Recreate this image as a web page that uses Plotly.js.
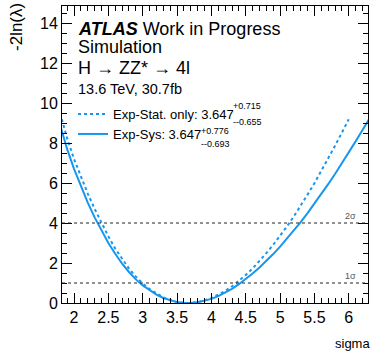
<!DOCTYPE html>
<html>
<head>
<meta charset="utf-8">
<script src="https://cdn.plot.ly/plotly-3.0.1.min.js"></script>
<style>html,body{margin:0;padding:0;background:#fff;}#chart{width:371px;height:351px;}</style>
</head>
<body>
<div id="chart"></div>
<script>
// ---- data ----
const statX = [1.8,1.9,2.0,2.1,2.2,2.3,2.4,2.5,2.6,2.7,2.8,2.9,3.0,3.1,3.2,3.3,3.4,3.5,3.6,3.647,3.7,3.8,3.9,4.0,4.1,4.2,4.3,4.4,4.5,4.6,4.7,4.8,4.9,5.0,5.1,5.2,5.3,5.4,5.5,5.6,5.7,5.8,5.9,6.0];
const statY = [9.48,8.23,7.20,6.31,5.47,4.71,3.99,3.33,2.72,2.19,1.72,1.32,0.976,0.70,0.47,0.28,0.14,0.05,0.005,0,0.0055,0.046,0.125,0.244,0.401,0.598,0.834,1.106,1.40,1.73,2.09,2.49,2.91,3.35,3.83,4.33,4.86,5.42,5.99,6.59,7.20,7.86,8.52,9.19];
const sysX = [1.8,1.9,2.0,2.1,2.2,2.3,2.4,2.5,2.6,2.7,2.8,2.9,3.0,3.1,3.2,3.3,3.4,3.5,3.6,3.647,3.7,3.8,3.9,4.0,4.1,4.2,4.3,4.4,4.5,4.6,4.7,4.8,4.9,5.0,5.1,5.2,5.3,5.4,5.5,5.6,5.7,5.8,5.9,6.0,6.1,6.2,6.3];
const sysY = [8.87,7.69,6.71,5.82,5.02,4.28,3.61,3.00,2.46,1.97,1.55,1.18,0.88,0.63,0.42,0.25,0.13,0.045,0.005,0,0.005,0.039,0.106,0.207,0.341,0.508,0.708,0.941,1.196,1.474,1.777,2.098,2.447,2.818,3.21,3.62,4.04,4.49,4.96,5.44,5.94,6.45,6.98,7.52,8.08,8.65,9.21];
const seriesNames = ["Exp-Stat. only: 3.647", "Exp-Sys: 3.647"];
const errUp = ["+0.715", "+0.776"];
const errDown = ["--0.655", "--0.693"];
const sigmaLevels = [1, 4];
const sigmaLabels = ["1\u03c3", "2\u03c3"];
const xTicks = [2, 2.5, 3, 3.5, 4, 4.5, 5, 5.5, 6];
const yTicks = [0, 2, 4, 6, 8, 10, 12, 14];

// ---- layout helpers ----
const W = 371, H = 351, ML = 62, MR = 3, MT = 6, MB = 48;
const PW = W - ML - MR, PH = H - MT - MB;
const px = x => (x - ML) / PW;
const py = y => (H - MB - y) / PH;
const blue = 'rgb(24,150,238)';
const FONT = 'Liberation Sans, Arial, Helvetica, sans-serif';

const traces = [
  {x: statX, y: statY, mode: 'lines', name: seriesNames[0], legend: 'legend',
   line: {color: blue, width: 2, dash: 'dot'}},
  {x: sysX, y: sysY, mode: 'lines', name: seriesNames[1], legend: 'legend2',
   line: {color: blue, width: 2}}
];

const shapes = sigmaLevels.map(v => ({
  type: 'line', xref: 'paper', x0: 0, x1: 1, yref: 'y', y0: v, y1: v,
  line: {color: '#222', width: 1, dash: 'dot'}
}));

const mk = a => Object.assign({xref: 'paper', yref: 'paper', xanchor: 'left', yanchor: 'middle',
  showarrow: false}, a, {font: Object.assign({family: FONT, size: 18, color: '#000'}, a.font || {})});

const annotations = [
  mk({text: '<b><i>ATLAS</i></b> Work in Progress', x: px(76), y: py(28.5)}),
  mk({text: 'Simulation', x: px(76), y: py(47.5)}),
  mk({text: 'H \u2192 ZZ* \u2192 4l', x: px(76), y: py(68)}),
  mk({text: '13.6 TeV, 30.7fb', x: px(76), y: py(89), font: {size: 14.5}}),
  mk({text: errUp[0], x: px(231), y: py(106.5), font: {size: 9}}),
  mk({text: errDown[0], x: px(231), y: py(122), font: {size: 9}}),
  mk({text: errUp[1], x: px(199), y: py(131), font: {size: 9}}),
  mk({text: errDown[1], x: px(199), y: py(144), font: {size: 9}})
];

sigmaLevels.forEach((v, i) => annotations.push({
  text: sigmaLabels[i], xref: 'paper', x: px(358), xanchor: 'right',
  yref: 'y', y: v, yanchor: 'bottom', showarrow: false,
  font: {family: FONT, size: 9, color: '#555'}
}));

annotations.push({text: '-2ln(\u03bb)', xref: 'paper', yref: 'paper', x: px(16), y: py(27),
  xanchor: 'center', yanchor: 'middle', textangle: -90, showarrow: false,
  font: {family: FONT, size: 17, color: '#000'}});
annotations.push({text: 'sigma', xref: 'paper', yref: 'paper', x: px(352), y: py(343),
  xanchor: 'center', yanchor: 'middle', showarrow: false,
  font: {family: FONT, size: 13, color: '#000'}});

const legendBase = {xanchor: 'left', yanchor: 'top', bgcolor: 'rgba(255,255,255,0)', borderwidth: 0,
  font: {family: FONT, size: 13, color: '#000'}};

const layout = {
  width: W, height: H,
  margin: {l: ML, r: MR, t: MT, b: MB, pad: 0},
  paper_bgcolor: '#fff', plot_bgcolor: '#fff',
  font: {family: FONT, color: '#000'},
  showlegend: true,
  legend: Object.assign({x: px(73), y: py(99)}, legendBase),
  legend2: Object.assign({x: px(73), y: py(119)}, legendBase),
  xaxis: {range: [1.825, 6.28], tickvals: xTicks, ticktext: xTicks.map(String),
    showline: true, linecolor: '#000', linewidth: 1, mirror: 'ticks',
    ticks: 'inside', ticklen: 10, tickcolor: '#000', tickwidth: 1,
    minor: {dtick: 0.1, tick0: 0, ticks: 'inside', ticklen: 5, tickcolor: '#000', showgrid: false},
    showgrid: false, zeroline: false, tickfont: {family: FONT, size: 16, color: '#000'}},
  yaxis: {range: [0, 14.85], tickvals: yTicks, ticktext: yTicks.map(String),
    showline: true, linecolor: '#000', linewidth: 1, mirror: 'ticks',
    ticks: 'inside', ticklen: 10, tickcolor: '#000', tickwidth: 1,
    minor: {dtick: 0.5, tick0: 0, ticks: 'inside', ticklen: 5, tickcolor: '#000', showgrid: false},
    showgrid: false, zeroline: false, tickfont: {family: FONT, size: 16, color: '#000'}},
  shapes: shapes,
  annotations: annotations
};

Plotly.newPlot('chart', traces, layout, {displayModeBar: false, staticPlot: true});
</script>
</body>
</html>
